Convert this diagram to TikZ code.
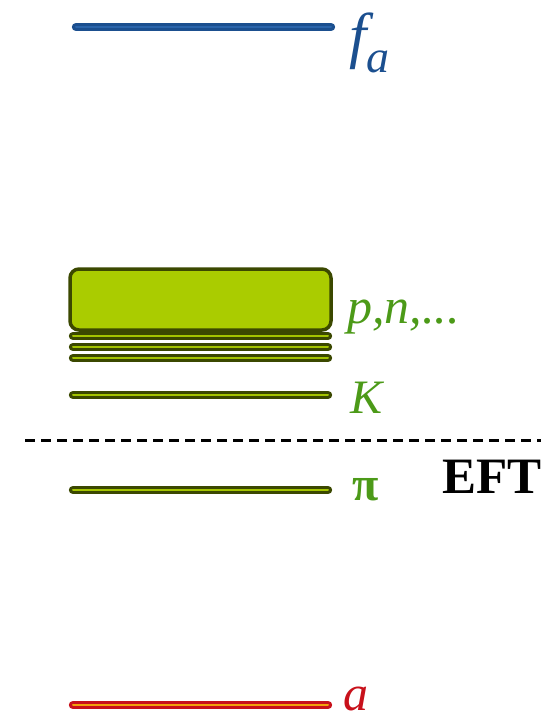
\documentclass[tikz,border=0pt]{standalone}
\usepackage{fontspec}
\setmainfont{Liberation Serif}
\usetikzlibrary{positioning}
\definecolor{fablue}{HTML}{1B4F8F}
\definecolor{falight}{HTML}{2A64AA}
\definecolor{hadrondark}{HTML}{3B4800}
\definecolor{hadronfill}{HTML}{AACC00}
\definecolor{hadronlight}{HTML}{A4C400}
\definecolor{labelgreen}{HTML}{4C9A18}
\definecolor{axionred}{HTML}{C8111B}
\definecolor{axionlight}{HTML}{F2A20C}

\begin{document}
\begin{tikzpicture}[
    x=1pt, y=-1pt,
    level/.style={line width=3.2pt, double distance=2pt, line cap=round},
    greenlevel/.style={level, draw=hadrondark, double=hadronlight},
    lbl/.style={anchor=base west, inner sep=0pt, font=\fontsize{50}{54}\selectfont\itshape},
    cut/.style={line width=3pt, dash pattern=on 10pt off 6pt},
]
    \useasboundingbox (0,0) rectangle (551,715);

    % Levels
    \draw[level, draw=fablue, double=falight] (76,27) -- (331,27) coordinate (fa-end);
    \draw[hadrondark, fill=hadronfill, line width=3.5pt, rounded corners=9pt] (70,269) rectangle (331,330);
    \foreach \y in {336,347,358}
        \draw[greenlevel] (73,\y) -- (328,\y);
    \draw[greenlevel] (73,395) -- (328,395) coordinate (k-end);
    \draw[greenlevel] (73,490) -- (328,490) coordinate (pi-end);
    \draw[level, draw=axionred, double=axionlight] (73,705) -- (328,705) coordinate (a-end);

    % Cut-off
    \draw[cut] (25,440) -- (541,440);

    % Labels
    \node[lbl, text=fablue, font=\fontsize{62}{66}\selectfont\itshape] (fa) at (349,56)
        {f\raisebox{-16pt}{\fontsize{46}{50}\selectfont a}};
    \node[lbl, text=labelgreen] (nucleons) at (347,323) {p,n,...};
    \node[lbl, text=labelgreen, font=\fontsize{48}{52}\selectfont\itshape] (kaon) at (350,413) {K};
    \node[lbl, text=labelgreen, font=\fontsize{48}{52}\selectfont\bfseries] (pion) at (352,500) {π};
    \node[lbl, text=axionred] (axion) at (343,710) {a};
    \node[anchor=base west, inner sep=0pt, font=\fontsize{51}{55}\selectfont\bfseries] (eft) at (442,493) {EFT};

\end{tikzpicture}
\end{document}
